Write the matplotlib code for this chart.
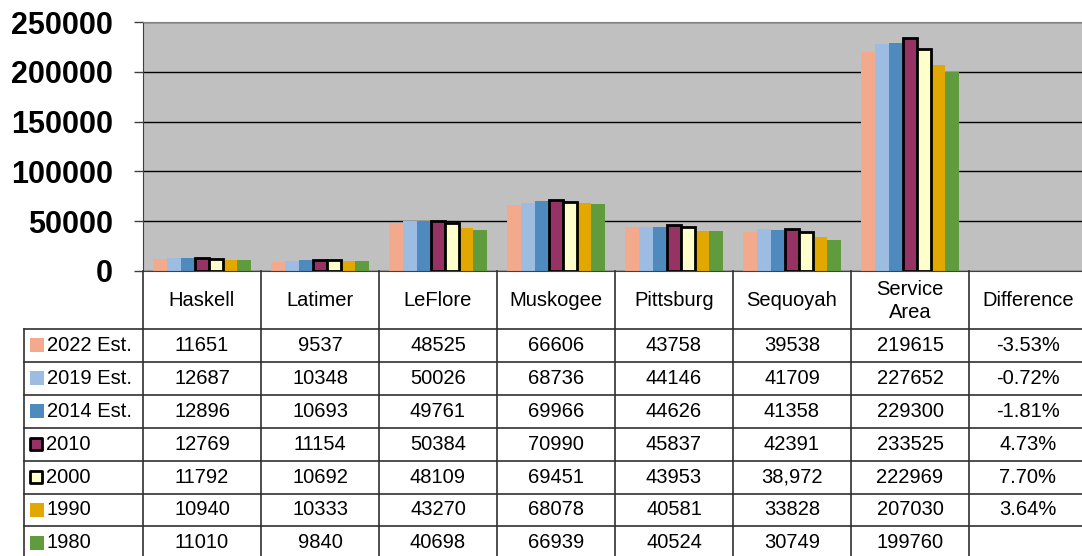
import numpy as np
import matplotlib
matplotlib.use("Agg")
import matplotlib.pyplot as plt

plt.rcParams['font.family'] = ['Liberation Sans', 'DejaVu Sans']

counties = ["Haskell", "Latimer", "LeFlore", "Muskogee", "Pittsburg", "Sequoyah", "Service\nArea"]
columns = counties + ["Difference"]
series = ["2022 Est.", "2019 Est.", "2014 Est.", "2010", "2000", "1990", "1980"]
v2022 = [11651, 9537, 48525, 66606, 43758, 39538, 219615]
v2019 = [12687, 10348, 50026, 68736, 44146, 41709, 227652]
v2014 = [12896, 10693, 49761, 69966, 44626, 41358, 229300]
v2010 = [12769, 11154, 50384, 70990, 45837, 42391, 233525]
v2000 = [11792, 10692, 48109, 69451, 43953, 38972, 222969]
v1990 = [10940, 10333, 43270, 68078, 40581, 33828, 207030]
v1980 = [11010, 9840, 40698, 66939, 40524, 30749, 199760]
values = [v2022, v2019, v2014, v2010, v2000, v1990, v1980]
# how the numbers look in the table (2000 Sequoyah has a comma in the source)
labels2000 = ["11792", "10692", "48109", "69451", "43953", "38,972", "222969"]
difference = ["-3.53%", "-0.72%", "-1.81%", "4.73%", "7.70%", "3.64%", ""]

colors = ["#F2A98C", "#9CBCE2", "#4F8ABF", "#963264", "#FFFFCC", "#E2A800", "#609B3E"]
edged = [False, False, False, True, True, False, False]

W, H = 1082, 556
fig = plt.figure(figsize=(W / 100, H / 100), dpi=100)

# pixel layout
x0, colw = 143, 118
ytop, ybot = 22, 271
ax = fig.add_axes([x0 / W, (H - ybot) / H, len(columns) * colw / W, (ybot - ytop) / H])
ax.set_facecolor("#C0C0C0")
ax.set_xlim(0, len(columns))
ax.set_ylim(0, 250000)
ax.set_yticks(np.arange(0, 250001, 50000))
ax.set_yticklabels([str(t) for t in range(0, 250001, 50000)], fontsize=22, fontweight="bold")
ax.set_xticks([])
ax.grid(axis="y", color="black", linewidth=1)
ax.set_axisbelow(True)
ax.tick_params(axis="y", length=6.5, width=1, color="#404040", pad=15)
ax.spines["right"].set_visible(False)
ax.spines["left"].set_color("#404040")
ax.spines["bottom"].set_color("#404040")
ax.spines["top"].set_color("#808080")

bw = 0.119
x = np.arange(len(counties)) + 0.5
for i, (vals, c, e) in enumerate(zip(values, colors, edged)):
    pos = x + (i - 3) * bw
    if e:
        ax.bar(pos, vals, width=bw, color=c, edgecolor="black", linewidth=2, zorder=3)
    else:
        ax.bar(pos, vals, width=bw, color=c, linewidth=0, zorder=2)

# data table drawn under the plot in pixel coordinates
tx = fig.add_axes([0, 0, 1, 1])
tx.set_xlim(0, W)
tx.set_ylim(H, 0)
tx.axis("off")

lab_x0 = 24
head_bot = 329
rowh = 32.9
xr = x0 + len(columns) * colw
lc = "#303030"
# column separators
for j in range(len(columns) + 1):
    xx = x0 + j * colw
    tx.plot([xx, xx], [ybot, H], color=lc, lw=1.2)
tx.plot([lab_x0, lab_x0], [head_bot, H], color=lc, lw=1.2)
# row lines
for r in range(len(series) + 1):
    yy = head_bot + r * rowh
    tx.plot([lab_x0, xr], [yy, yy], color=lc, lw=1.2)

for j, name in enumerate(columns):
    tx.text(x0 + (j + 0.5) * colw, (ybot + head_bot) / 2 + 1, name, ha="center", va="center",
            fontsize=14.5, linespacing=1.25)

for r, name in enumerate(series):
    yc = head_bot + (r + 0.5) * rowh
    if edged[r]:
        tx.scatter([36], [yc], marker="s", s=80, color=colors[r], edgecolor="black", linewidth=2, zorder=5)
    else:
        tx.scatter([36.5], [yc], marker="s", s=110, color=colors[r], linewidth=0, zorder=5)
    tx.text(46 if edged[r] else 47, yc, name, ha="left", va="center", fontsize=14.5)
    if name == "2000":
        row = labels2000
    else:
        row = [str(v) for v in values[r]]
    for j, txt in enumerate(row + [difference[r]]):
        tx.text(x0 + (j + 0.5) * colw, yc, txt, ha="center", va="center", fontsize=14.5)

fig.savefig("out.png", dpi=100)
